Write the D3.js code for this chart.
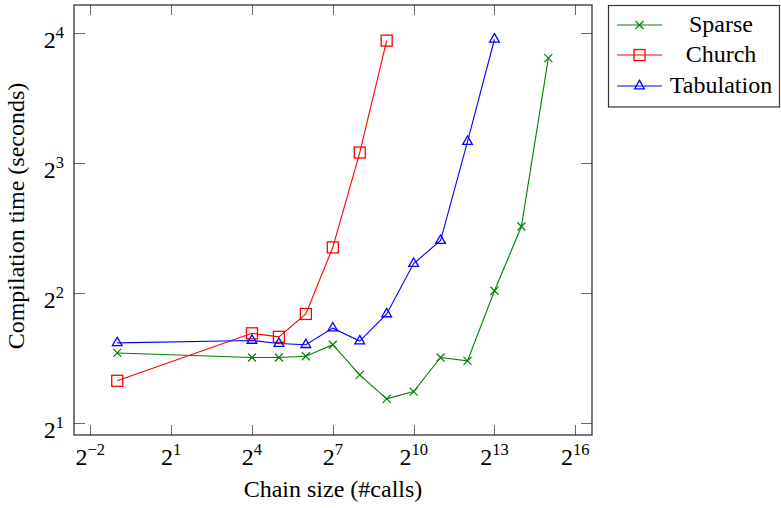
<!DOCTYPE html>
<html><head><meta charset="utf-8">
<script src="https://cdn.jsdelivr.net/npm/d3@7"></script>
<style>
body{margin:0;background:#fff;}
svg{display:block;}
</style></head>
<body><svg id="chart" width="781" height="508"></svg>
<script>
const sparseX = [0.5,16,32,64,128,256,512,1024,2048,4096,8192,16384,32768];
const sparseY = [2.90,2.83,2.83,2.85,3.03,2.58,2.27,2.36,2.83,2.78,4.04,5.69,13.96];
const churchX = [0.5,16,32,64,128,256,512];
const churchY = [2.50,3.22,3.16,3.57,5.09,8.44,15.33];
const tabX = [0.5,16,32,64,128,256,512,1024,2048,4096,8192];
const tabY = [3.06,3.10,3.05,3.03,3.31,3.09,3.57,4.67,5.28,8.95,15.44];
const xTickExp = [-2,1,4,7,10,13,16];
const yTickExp = [1,2,3,4];
const seriesNames = ["Sparse","Church","Tabulation"];
const seriesColors = ["#008000","#ff0000","#0000ff"];
const seriesMarks = ["x","square","triangle"];

const FONT = '"Liberation Serif"';
const svg = d3.select("#chart");
const L=74,R=592,T=5,B=435;
const x = d3.scaleLog().base(2).domain([Math.pow(2,-2.605),Math.pow(2,16.62)]).range([L,R]);
const y = d3.scaleLog().base(2).domain([Math.pow(2,0.905),Math.pow(2,4.212)]).range([B,T]);

const FS=24, SUP=16.5;
function txt(g){ return g.append("text").style("font-family",FONT).attr("font-size",FS).attr("fill","#000"); }

const tickG = svg.append("g").attr("stroke","#6a6a6a").attr("stroke-width",1);
xTickExp.forEach(e=>{
  const px=Math.round(x(Math.pow(2,e)))+0.5;
  tickG.append("line").attr("x1",px).attr("x2",px).attr("y1",B).attr("y2",B-10);
  tickG.append("line").attr("x1",px).attr("x2",px).attr("y1",T).attr("y2",T+10);
});
yTickExp.forEach(e=>{
  const py=Math.round(y(Math.pow(2,e)))+0.5;
  tickG.append("line").attr("x1",L).attr("x2",L+11).attr("y1",py).attr("y2",py);
  tickG.append("line").attr("x1",R).attr("x2",R-11).attr("y1",py).attr("y2",py);
});
function expLabel(g, e, px, py, anchor){
  const t = txt(g).attr("x",px).attr("y",py).attr("text-anchor",anchor);
  t.append("tspan").text("2");
  t.append("tspan").style("font-size",SUP+"px").attr("dy",-10).text(e<0?"\u2212"+(-e):String(e));
}
const lab = svg.append("g");
xTickExp.forEach(e=>expLabel(lab,e,x(Math.pow(2,e)),B+30,"middle"));
yTickExp.forEach(e=>expLabel(lab,e,64,y(Math.pow(2,e))+15,"end"));

txt(svg).attr("x",(L+R)/2).attr("y",497).attr("text-anchor","middle").text("Chain size (#calls)");
txt(svg).attr("transform",`translate(24,${(T+B)/2-4}) rotate(-90)`).attr("text-anchor","middle")
  .text("Compilation time (seconds)");

function drawMark(g, kind, cx, cy, color){
  if(kind==="x"){
    const s=4;
    g.append("path").attr("d",`M${cx-s},${cy-s}L${cx+s},${cy+s}M${cx-s},${cy+s}L${cx+s},${cy-s}`)
      .attr("stroke",color).attr("stroke-width",1.2).attr("fill","none");
  } else if(kind==="square"){
    const s=5.5;
    g.append("rect").attr("x",cx-s).attr("y",cy-s).attr("width",2*s).attr("height",2*s)
      .attr("stroke",color).attr("stroke-width",1.3).attr("fill","none");
  } else {
    const r=5.6;
    const pts=[[cx,cy-r],[cx+r*0.866,cy+r*0.5],[cx-r*0.866,cy+r*0.5]];
    g.append("path").attr("d","M"+pts.map(p=>p.join(",")).join("L")+"Z")
      .attr("stroke",color).attr("stroke-width",1.3).attr("fill","none");
  }
}

const data = [
  {xs:sparseX, ys:sparseY},
  {xs:churchX, ys:churchY},
  {xs:tabX, ys:tabY}
];
const line = d3.line().x(d=>x(d[0])).y(d=>y(d[1]));
const plot = svg.append("g");
data.forEach((s,i)=>{
  const pts = s.xs.map((v,j)=>[v,s.ys[j]]);
  plot.append("path").attr("d",line(pts)).attr("fill","none")
    .attr("stroke",seriesColors[i]).attr("stroke-width",1.1);
  pts.forEach(p=>drawMark(plot,seriesMarks[i],x(p[0]),y(p[1]),seriesColors[i]));
});

svg.append("rect").attr("x",L).attr("y",T).attr("width",R-L).attr("height",B-T)
  .attr("fill","none").attr("stroke","#333").attr("stroke-width",1.3);

const lg = svg.append("g");
lg.append("rect").attr("x",608.5).attr("y",5.5).attr("width",171).attr("height",101.5)
  .attr("fill","#fff").attr("stroke","#333").attr("stroke-width",1.2);
const legY=[25,55,86];
seriesNames.forEach((n,i)=>{
  lg.append("line").attr("x1",617).attr("x2",662).attr("y1",legY[i]).attr("y2",legY[i])
    .attr("stroke",seriesColors[i]).attr("stroke-width",1.1);
  drawMark(lg,seriesMarks[i],639.5,legY[i],seriesColors[i]);
  txt(lg).attr("x",721).attr("y",legY[i]+7).attr("text-anchor","middle").text(n);
});
</script></body></html>
